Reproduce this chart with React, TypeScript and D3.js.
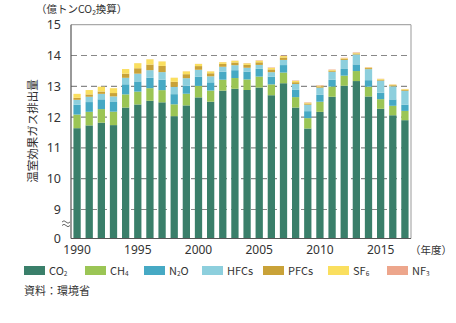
import React from "react";
import * as d3 from "d3";

const years = d3.range(1990, 2018);
const co2 = [1164, 1173, 1182, 1174, 1231, 1241, 1253, 1248, 1203, 1238, 1264, 1250, 1286, 1292, 1288, 1296, 1271, 1310, 1231, 1163, 1217, 1266, 1302, 1317, 1267, 1227, 1206, 1190];
const ch4 = [44.3, 44.2, 44.0, 43.6, 42.8, 41.8, 40.9, 39.6, 38.5, 37.9, 37.2, 36.3, 35.4, 34.8, 34.3, 35.6, 35.2, 34.6, 33.9, 33.6, 32.9, 33.2, 32.6, 32.5, 31.7, 31.3, 30.7, 30.1];
const n2o = [31.9, 31.6, 31.7, 31.5, 32.7, 33.0, 33.9, 34.1, 33.0, 26.0, 29.6, 26.6, 25.8, 25.5, 25.5, 25.0, 25.1, 24.3, 23.4, 22.7, 22.3, 21.9, 21.7, 21.6, 21.2, 20.8, 20.7, 20.5];
const hfcs = [15.9, 17.3, 17.8, 18.1, 21.1, 25.2, 24.6, 24.4, 23.7, 24.4, 22.9, 19.5, 16.2, 16.2, 12.4, 12.8, 14.6, 16.7, 19.3, 20.9, 23.3, 26.1, 29.4, 32.1, 35.8, 39.3, 42.6, 44.9];
const pfcs = [6.5, 7.5, 7.6, 10.9, 13.4, 17.6, 18.2, 20.1, 16.4, 13.0, 11.9, 9.9, 9.2, 8.9, 9.2, 8.6, 9.0, 7.9, 5.7, 4.0, 4.2, 3.8, 3.4, 3.3, 3.4, 3.3, 3.4, 3.5];
const sf6 = [12.9, 14.2, 15.6, 15.7, 15.0, 16.4, 17.0, 14.5, 13.2, 9.2, 7.0, 6.1, 5.7, 5.4, 5.3, 5.1, 5.2, 4.7, 4.2, 2.4, 2.4, 2.2, 2.2, 2.1, 2.1, 2.2, 2.2, 2.1];
const nf3 = [0.03, 0.03, 0.03, 0.03, 0.04, 0.2, 0.2, 0.2, 0.2, 0.3, 0.3, 0.3, 0.4, 0.6, 0.9, 1.4, 1.4, 1.5, 1.5, 1.5, 1.5, 1.4, 1.5, 1.6, 1.1, 0.6, 0.6, 0.3];

const seriesKeys = ["CO2", "CH4", "N2O", "HFCs", "PFCs", "SF6", "NF3"];
const seriesData = [co2, ch4, n2o, hfcs, pfcs, sf6, nf3];
const seriesColors = ["#3a7f6a", "#9bc555", "#46a9c4", "#8dcfdd", "#c9a238", "#fadf5f", "#eda68c"];
const legendLabels: [string, string, string][] = [
  ["CO", "2", ""], ["CH", "4", ""], ["N", "2", "O"], ["HFCs", "", ""], ["PFCs", "", ""], ["SF", "6", ""], ["NF", "3", ""],
];
const yTicks = [9, 10, 11, 12, 13, 14, 15];
const xLabelYears = [1990, 1995, 2000, 2005, 2010, 2015];

const FONT = "'Noto Sans CJK JP', 'Noto Sans', sans-serif";
const NUMFONT = "'Noto Sans', 'Open Sans', sans-serif";

export default function App() {
  const left = 71, right = 411, top = 24.7, bottom = 238.5;
  const x = d3.scaleBand<number>().domain(years).range([left, right]).paddingInner(0.4).paddingOuter(0.2);
  const y = d3.scaleLinear().domain([9, 15]).range([209.5, top]);
  const yp = (v: number) => (v < 9 ? bottom : y(v));

  const table = years.map((yr, i) => {
    const row: any = { year: yr };
    seriesKeys.forEach((k, j) => (row[k] = seriesData[j][i] / 100));
    return row;
  });
  const stacked = d3.stack<any>().keys(seriesKeys)(table);

  const legendX = [24, 85, 144, 202, 263, 328, 387];

  return (
    <svg width={456} height={323} style={{ display: "block", position: "absolute", left: 0, top: 0 }} fontFamily={FONT}>
      <rect width={456} height={323} fill="#fff" />
      {/* unit label */}
      <text x={36} y={12.5} fontSize={10.5} fill="#333">（億トンCO₂換算）</text>
      {/* y title */}
      <text transform={`translate(37,131) rotate(-90)`} textAnchor="middle" fontSize={11.5} fill="#333">温室効果ガス排出量</text>

      {/* gridlines */}
      {yTicks.filter((t) => t < 15).map((t) => (
        <line key={t} x1={left} x2={right} y1={y(t)} y2={y(t)} stroke="#888" strokeWidth={1.2} strokeDasharray="6,4" />
      ))}

      {/* bars */}
      {stacked.map((layer, li) => (
        <g key={layer.key} fill={seriesColors[li]}>
          {layer.map((d, i) => {
            const y0 = yp(d[0]);
            const y1 = yp(d[1]);
            return <rect key={i} x={x(years[i])} width={x.bandwidth()} y={y1} height={Math.max(0, y0 - y1)} />;
          })}
        </g>
      ))}

      {/* frame */}
      <line x1={left} x2={right} y1={top} y2={top} stroke="#aaa" strokeWidth={1.2} />
      <line x1={right} x2={right} y1={top} y2={bottom} stroke="#aaa" strokeWidth={1.2} />
      <line x1={left} x2={left} y1={top} y2={bottom} stroke="#555" strokeWidth={1.2} />
      <line x1={left} x2={right} y1={bottom} y2={bottom} stroke="#555" strokeWidth={1.2} />

      {/* y tick labels */}
      {yTicks.map((t) => (
        <text key={t} x={61} y={y(t) + 4.5} textAnchor="end" fontSize={12.5} fill="#333" fontFamily={NUMFONT}>{t}</text>
      ))}
      <text x={61} y={bottom + 4.5} textAnchor="end" fontSize={12.5} fill="#333" fontFamily={NUMFONT}>0</text>
      {/* break mark */}
      {[0, 3.5].map((o) => (
        <path key={o} d={`M62,${222 + o} q2,-2.5 4,0 t4,0`} fill="none" stroke="#555" strokeWidth={0.9} />
      ))}

      {/* x labels */}
      {xLabelYears.map((yr) => (
        <text key={yr} x={(x(yr) as number) + x.bandwidth() / 2} y={254} textAnchor="middle" fontSize={12} fill="#333" fontFamily={NUMFONT}>{yr}</text>
      ))}
      <text x={410} y={254} fontSize={10.5} fill="#333">（年度）</text>

      {/* legend */}
      {legendLabels.map((lab, i) => (
        <g key={i}>
          <rect x={legendX[i]} y={266} width={21} height={9} fill={seriesColors[i]} />
          <text x={legendX[i] + 25} y={274.5} fontSize={11} fill="#333">
            {lab[0]}
            {lab[1] && <tspan fontSize={6.5} dy={1}>{lab[1]}</tspan>}
            {lab[2] && <tspan dy={-1}>{lab[2]}</tspan>}
          </text>
        </g>
      ))}
      <text x={24} y={295} fontSize={11} fill="#333">資料：環境省</text>
    </svg>
  );
}
